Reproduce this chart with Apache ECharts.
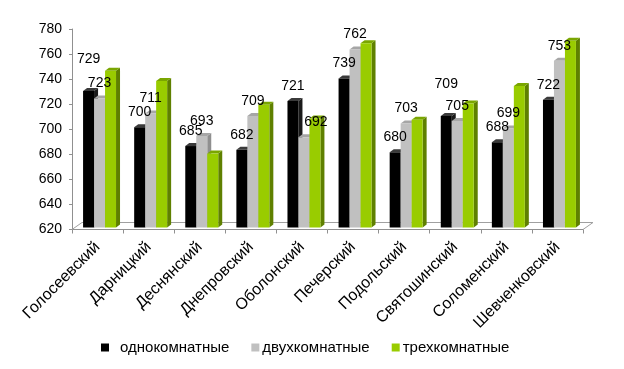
<!DOCTYPE html>
<html><head><meta charset="utf-8">
<script src="https://cdn.jsdelivr.net/npm/echarts@6/dist/echarts.min.js"></script>
<style>html,body{margin:0;padding:0;background:#fff}#c{width:624px;height:369px}</style>
</head><body><div id="c"></div>
<script>
const categories = ['Голосеевский','Дарницкий','Деснянский','Днепровский','Оболонский','Печерский','Подольский','Святошинский','Соломенский','Шевченковский'];
const oneRoom = [729, 700, 685, 682, 721, 739, 680, 709, 688, 722];
const twoRoom = [723, 711, 693, 709, 692, 762, 703, 705, 699, 753];
const threeRoom = [745, 737, 679, 718, 707, 767, 706, 719, 733, 769];
const seriesNames = ['однокомнатные','двухкомнатные','трехкомнатные'];
const yTicks = {min: 620, max: 780, interval: 20};

const styles = [
  {front:'#000000', side:'#1a1a1a', top:'#3a3a3a', label:true},
  {front:'#c0c0c0', side:'#8f8f8f', top:'#a6a6a6', label:true},
  {front:'#99cc00', side:'#5f8000', top:'#7aa600', label:false}
];
const FONT = '"Liberation Sans", Arial, sans-serif';
const dataSets = [oneRoom, twoRoom, threeRoom];

function barGeom(si, api){
  const ci = api.value(0), v = api.value(1);
  const p = api.coord([ci, v]);
  const p0 = api.coord([ci, yTicks.min]);
  const band = api.size([1, 0])[0];
  const bw = band * 0.215;
  const x = p[0] - 1.5 * bw + si * bw + 2;
  return {x, bw, yT: p[1] - 2, yB: p0[1] - 2, v, ci};
}

function makeRender(si){
  const st = styles[si];
  return function(params, api){
    const g = barGeom(si, api);
    const dx = 4, dy = -3;
    const {x, bw, yT, yB} = g;
    return {type:'group', children:[
      {type:'polygon', shape:{points:[[x+bw,yT],[x+bw+dx,yT+dy],[x+bw+dx,yB+dy],[x+bw,yB]]}, style:{fill:st.side}},
      {type:'polygon', shape:{points:[[x,yT],[x+dx,yT+dy],[x+bw+dx,yT+dy],[x+bw,yT]]}, style:{fill:st.top}},
      {type:'rect', shape:{x:x, y:yT, width:bw, height:yB-yT}, style:{fill:st.front}}
    ]};
  };
}

function makeLabelRender(si){
  return function(params, api){
    const g = barGeom(si, api);
    let y = g.yT - 15;
    let cx = g.x + g.bw / 2;
    if (si === 0) {
      const pOther = api.coord([g.ci, twoRoom[g.ci]]);
      const yOther = pOther[1] - 2 - 15;
      if (Math.abs(y - yOther) < 10) y = Math.min(y, yOther) - 17;
    } else if (si === 1) {
      const pPrev = api.coord([g.ci, oneRoom[g.ci]]);
      if (pPrev[1] - 2 < y - 3) cx += 12;
    }
    return {type:'text', style:{text:String(g.v), x:cx, y:y, align:'center', verticalAlign:'middle', fill:'#000', font:'14px ' + FONT}};
  };
}

function floorRender(params, api){
  const n = categories.length;
  const a = api.coord([0, yTicks.min]);
  const b = api.coord([n-1, yTicks.min]);
  const band = api.size([1,0])[0];
  const x0 = a[0] - band/2, x1 = b[0] + band/2, y = a[1];
  const dx = 10, dy = -7;
  return {type:'polyline', shape:{points:[[x0,y],[x0+dx,y+dy],[x1+dx,y+dy],[x1,y]]}, style:{stroke:'#a0a0a0', lineWidth:1, fill:null}};
}

const series = [{
  type:'custom', name:'floor', renderItem: floorRender, data:[[0, yTicks.min]], silent:true, z:1
}];
dataSets.forEach((arr, si) => {
  series.push({
    type:'custom', name: seriesNames[si], z: 2 + si,
    itemStyle:{color: styles[si].front},
    renderItem: makeRender(si),
    encode:{x:0, y:1},
    data: arr.map((v, i) => [i, v])
  });
});
dataSets.forEach((arr, si) => {
  if (!styles[si].label) return;
  series.push({
    type:'custom', name: seriesNames[si] + '-labels', z: 10,
    renderItem: makeLabelRender(si), silent:true,
    encode:{x:0, y:1},
    data: arr.map((v, i) => [i, v])
  });
});

const legendPads = [6, -2, -2];
const chart = echarts.init(document.getElementById('c'), null, {renderer:'canvas'});
chart.setOption({
  animation:false,
  backgroundColor:'#fff',
  grid:{left:72, right:41, top:29, bottom:139.5, containLabel:false},
  legend:{
    data: seriesNames.map((n, i) => ({name:n, textStyle:{padding:[0,0,0,legendPads[i]]}})),
    left:96, top:335, icon:'rect', itemWidth:8, itemHeight:8, itemGap:22,
    selectedMode:false,
    textStyle:{fontFamily:FONT, fontSize:15, color:'#000'}
  },
  xAxis:{
    type:'category', data: categories,
    axisLine:{show:true, lineStyle:{color:'#909090'}},
    axisTick:{show:true, length:4, lineStyle:{color:'#909090'}},
    axisLabel:{rotate:45, fontFamily:FONT, fontSize:16, color:'#000', margin:15, interval:0}
  },
  yAxis:{
    type:'value', min:yTicks.min, max:yTicks.max, interval:yTicks.interval,
    axisLine:{show:true, lineStyle:{color:'#909090'}},
    axisTick:{show:true, length:3, lineStyle:{color:'#909090'}},
    splitLine:{show:false},
    axisLabel:{fontFamily:FONT, fontSize:14, color:'#000', margin:10}
  },
  series
});
</script>
</body></html>
